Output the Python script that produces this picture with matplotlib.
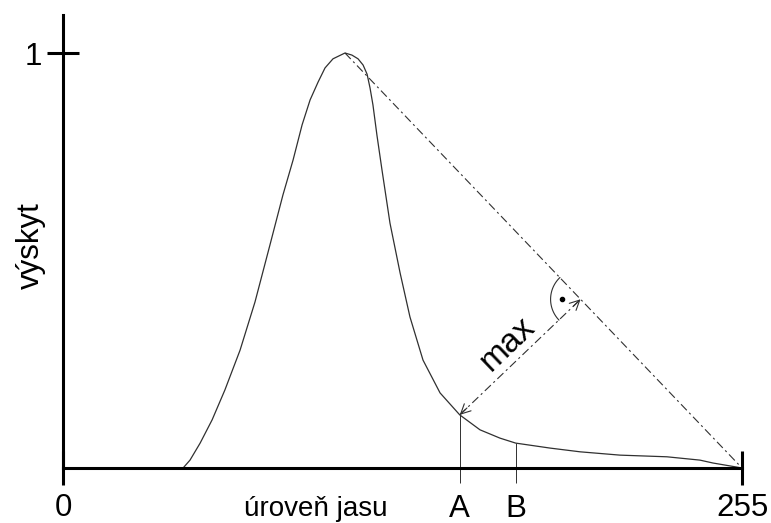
import numpy as np
import matplotlib
matplotlib.use("Agg")
import matplotlib.pyplot as plt

plt.rcParams['font.family'] = ['Liberation Sans', 'DejaVu Sans']
plt.rcParams['lines.scale_dashes'] = False

# histogram shape (grey level, normalised count)
levels = [45.1, 47.7, 51.5, 56.0, 60.8, 66.5, 72.1, 77.7, 82.6, 86.4, 89.8, 92.8,
          95.8, 98.4, 101.4, 105.9, 108.5, 110.8, 112.7, 114.2, 115.3, 116.4,
          117.9, 119.8, 122.8, 126.6, 130.3, 135.2, 141.6, 149.0, 156.6, 164.1,
          170.0, 182.9, 194.2, 209.2, 226.8, 239.2, 244.1, 250.5, 255.0]
counts = [0.0, 0.019, 0.060, 0.116, 0.188, 0.284, 0.400, 0.537, 0.658, 0.742, 0.827, 0.887,
          0.930, 0.964, 0.986, 1.0, 0.995, 0.986, 0.971, 0.949, 0.916, 0.875,
          0.802, 0.718, 0.590, 0.470, 0.364, 0.260, 0.181, 0.128, 0.092, 0.072,
          0.060, 0.048, 0.039, 0.031, 0.027, 0.019, 0.012, 0.005, 0.0]

a_level = 149.0
b_level = 170.0
fs = 22.5
ink = '#303030'

fig = plt.figure(figsize=(7.71, 5.23), dpi=100)
ax = fig.add_axes([63 / 771, 55 / 523, 679 / 771, 453 / 523])
ax.set_xlim(0, 255)
ax.set_ylim(0, 453 / 415)

for s in ['top', 'right']:
    ax.spines[s].set_visible(False)
for s in ['left', 'bottom']:
    ax.spines[s].set_linewidth(2.2)

ax.plot(levels, counts, color=ink, lw=0.9)

# ticks
ax.set_xticks([0, 255], ['0', '255'])
ax.set_xticks([a_level, b_level], ['A', 'B'], minor=True)
ax.set_yticks([1], ['1'])
ax.tick_params(axis='x', which='major', direction='inout', length=24, width=2.2,
               labelsize=fs, pad=6.3)
ax.tick_params(axis='x', which='minor', direction='out', length=11, width=0.7,
               labelsize=fs, pad=7.5, color=ink)
ax.tick_params(axis='y', which='major', direction='inout', length=23, width=2.2,
               labelsize=fs, pad=3.6)

ax.set_xlabel('úroveň jasu', fontsize=20)
ax.xaxis.label.set_va('baseline')
ax.xaxis.set_label_coords(0.3726, -0.106)
ax.set_ylabel('výskyt', fontsize=fs)
ax.yaxis.label.set_va('center')
ax.yaxis.set_label_coords(-0.047, 0.49)

# A, B markers
a_val = counts[levels.index(a_level)]
b_val = counts[levels.index(b_level)]
ax.vlines([a_level, b_level], 0, [a_val, b_val], color=ink, lw=0.7)

# line from peak to the end of the histogram
i_peak = int(np.argmax(counts))
peak = (levels[i_peak], counts[i_peak])
end = (levels[-1], counts[-1])
dash = (0, (6, 2.5, 1.5, 2.5))
ax.plot([peak[0], end[0]], [peak[1], end[1]], color=ink, lw=0.8, linestyle=dash)

# perpendicular from A to that line (in pixel space)
T = ax.transData
inv = T.inverted()
p = T.transform(peak)
e = T.transform(end)
a = T.transform((a_level, a_val))
d = (e - p) / np.linalg.norm(e - p)
foot = p + np.dot(a - p, d) * d
foot_d = inv.transform(foot)
a_d = (a_level, a_val)
ax.plot([a_d[0], foot_d[0]], [a_d[1], foot_d[1]], color=ink, lw=0.8, linestyle=dash)

u = (foot - a) / np.linalg.norm(foot - a)
for tip, back in [(foot, foot - 10 * u), (a, a + 10 * u)]:
    ax.annotate('', xy=inv.transform(tip), xytext=inv.transform(back),
                arrowprops=dict(arrowstyle='->,head_length=0.7,head_width=0.35',
                                lw=0.8, color=ink, shrinkA=0, shrinkB=0))

# right angle mark
ang_p = np.arctan2(*(p - foot)[::-1])
ang_a = np.arctan2(*(a - foot)[::-1])
if ang_a < ang_p:
    ang_a += 2 * np.pi
t = np.linspace(ang_p, ang_a, 40)
arc = foot + 30 * np.column_stack([np.cos(t), np.sin(t)])
arc_d = inv.transform(arc)
ax.plot(arc_d[:, 0], arc_d[:, 1], color=ink, lw=0.8)
mid_ang = (ang_p + ang_a) / 2
dot = inv.transform(foot + 19 * np.array([np.cos(mid_ang), np.sin(mid_ang)]))
ax.plot(dot[0], dot[1], 'o', color='black', ms=3)

# "max" label along the perpendicular
normal = np.array([-u[1], u[0]])
pos = inv.transform((a + foot) / 2 + 18 * normal)
ax.text(pos[0], pos[1], 'max', fontsize=24, rotation=np.degrees(np.arctan2(u[1], u[0])),
        rotation_mode='anchor', ha='center', va='center')

fig.savefig('out.png', dpi=100)
